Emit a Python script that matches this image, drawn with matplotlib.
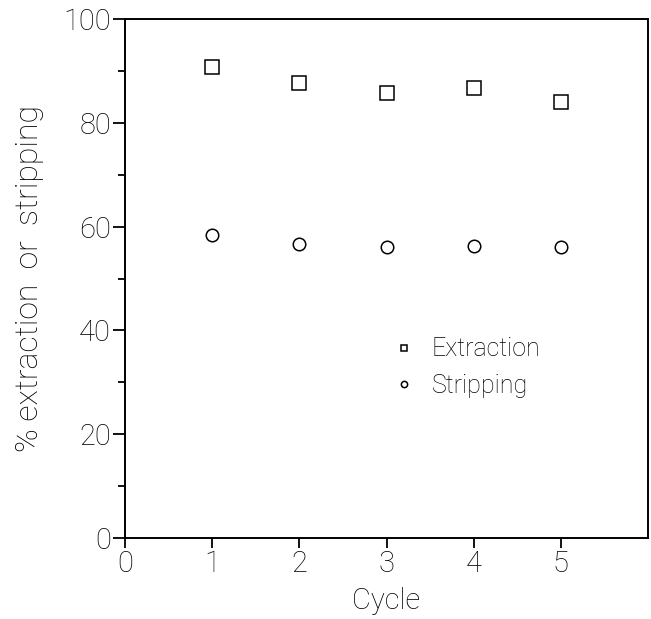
import matplotlib
matplotlib.use("Agg")
import matplotlib.pyplot as plt

# values
cycles = [1, 2, 3, 4, 5]
extraction = [90.8, 87.7, 85.8, 86.8, 84.1]
stripping = [58.4, 56.6, 56.0, 56.3, 56.1]
x_ticks = [0, 1, 2, 3, 4, 5]
y_ticks = [0, 20, 40, 60, 80, 100]
y_minor = [10, 30, 50, 70, 90]

# thin strokes like the original plotter font
plt.rcParams['font.family'] = ['Roboto', 'Liberation Sans', 'DejaVu Sans']
plt.rcParams['font.weight'] = 'light'
plt.rcParams['axes.labelweight'] = 'light'

fig = plt.figure(figsize=(6.51, 6.19), dpi=100)
ax = fig.add_axes([125 / 651, 1 - 538 / 619, 523 / 651, 519 / 619])

ax.plot(cycles, extraction, linestyle='none', marker='s', markersize=9.5,
        markerfacecolor='white', markeredgecolor='black', markeredgewidth=1.1,
        label='Extraction')
ax.plot(cycles, stripping, linestyle='none', marker='o', markersize=9,
        markerfacecolor='white', markeredgecolor='black', markeredgewidth=1.1,
        label='Stripping')

ax.set_xlim(0, 6)
ax.set_ylim(0, 100)
ax.set_xticks(x_ticks)
ax.set_yticks(y_ticks)
ax.set_yticks(y_minor, minor=True)
ax.tick_params(axis='both', which='major', direction='out', width=1.3,
               labelsize=21, color='black')
ax.tick_params(axis='y', which='major', length=9, pad=1)
ax.tick_params(axis='y', which='minor', length=5, width=1.3)
ax.tick_params(axis='x', which='major', length=7, pad=2)

for s in ax.spines.values():
    s.set_linewidth(1.4)

ax.set_xlabel('Cycle', fontsize=21, labelpad=6)
ax.set_ylabel('% extraction  or  stripping', fontsize=23, labelpad=14)

leg = ax.legend(loc='upper left', bbox_to_anchor=(0.455, 0.43), frameon=False,
                markerscale=0.5, fontsize=18, handletextpad=0.35,
                labelspacing=0.5, handlelength=1.5)

fig.savefig('out.png', dpi=100)
